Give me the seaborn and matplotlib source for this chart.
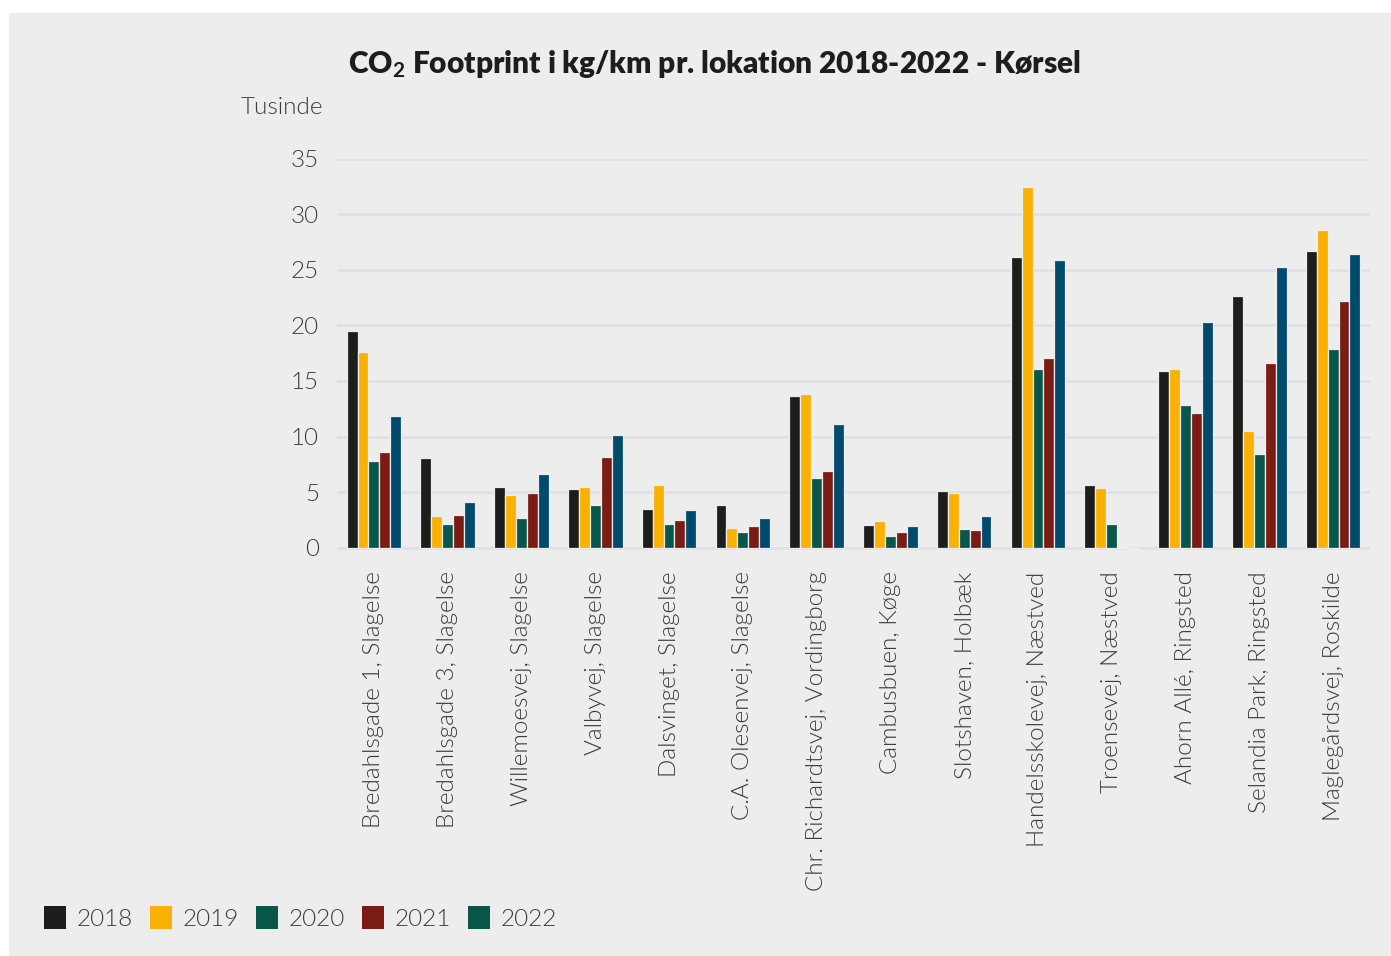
import matplotlib
matplotlib.use("Agg")
import matplotlib.pyplot as plt
from matplotlib.patches import Patch, Rectangle
import seaborn as sns
import pandas as pd

# Locations and yearly CO2 footprint (thousands of kg/km)
locations = [
    "Bredahlsgade 1, Slagelse",
    "Bredahlsgade 3, Slagelse",
    "Willemoesvej, Slagelse",
    "Valbyvej, Slagelse",
    "Dalsvinget, Slagelse",
    "C.A. Olesenvej, Slagelse",
    "Chr. Richardtsvej, Vordingborg",
    "Cambusbuen, Køge",
    "Slotshaven, Holbæk",
    "Handelsskolevej, Næstved",
    "Troensevej, Næstved",
    "Ahorn Allé, Ringsted",
    "Selandia Park, Ringsted",
    "Maglegårdsvej, Roskilde",
]
years = ["2018", "2019", "2020", "2021", "2022"]

v2018 = [19.5, 8.1, 5.5, 5.3, 3.5, 3.8, 13.6, 2.05, 5.1, 26.1, 5.6, 15.9, 22.6, 26.7]
v2019 = [17.6, 2.85, 4.75, 5.5, 5.65, 1.8, 13.8, 2.4, 4.95, 32.4, 5.4, 16.1, 10.5, 28.6]
v2020 = [7.8, 2.15, 2.7, 3.85, 2.15, 1.4, 6.3, 1.05, 1.7, 16.1, 2.15, 12.8, 8.45, 17.85]
v2021 = [8.6, 2.95, 4.95, 8.2, 2.5, 1.95, 6.9, 1.4, 1.6, 17.1, 0.05, 12.1, 16.6, 22.2]
v2022 = [11.8, 4.1, 6.65, 10.1, 3.4, 2.7, 11.15, 1.95, 2.85, 25.9, -0.1, 20.3, 25.2, 26.45]

yticks = [0, 5, 10, 15, 20, 25, 30, 35]

bar_colors = ["#1d1d1b", "#f9b104", "#08574a", "#7b1c14", "#004a6d"]
legend_colors = ["#1d1d1b", "#f9b104", "#08574a", "#7b1c14", "#08574a"]

bg = "#ededed"
text_color = "#3c3c3c"
grid_color = "#e1e1e5"

series = [v2018, v2019, v2020, v2021, v2022]
df = pd.DataFrame({
    "Lokation": [loc for _ in years for loc in locations],
    "År": [y for y in years for _ in locations],
    "Værdi": [v for s in series for v in s],
})

sns.set_theme(style="white")
plt.rcParams["font.family"] = ["Lato", "DejaVu Sans"]
plt.rcParams["mathtext.fontset"] = "custom"
plt.rcParams["mathtext.rm"] = "Lato:bold"
plt.rcParams["mathtext.default"] = "rm"

LABEL_W = 300
LABEL_SIZE = 17.5

W, H = 1391, 956
fig = plt.figure(figsize=(W / 100, H / 100), dpi=100)
fig.patch.set_facecolor("white")
fig.patches.append(Rectangle((9 / W, 0), 1 - 9 / W, 1 - 13 / H,
                             transform=fig.transFigure, facecolor=bg,
                             edgecolor="none", zorder=-10))

# Axes: y=0 at 547.7 px, y=35 at 158.5 px
ymin, ymax = -0.5, 35
px_per_unit = (547.7 - 158.5) / 35
bottom_px = 547.7 + (0 - ymin) * px_per_unit
left, right = 337 / W, 1370 / W
ax = fig.add_axes([left, 1 - bottom_px / H, right - left, (bottom_px - 158.5) / H])
ax.set_facecolor(bg)

sns.barplot(data=df, x="Lokation", y="Værdi", hue="År", palette=bar_colors,
            saturation=1, width=0.74, edgecolor=bg, linewidth=0.9, ax=ax,
            legend=False, errorbar=None, zorder=3)

ax.set_ylim(ymin, ymax)
ax.set_yticks(yticks)
ax.set_yticklabels([str(t) for t in yticks])
ax.set_xlim(-0.5, len(locations) - 0.5)
ax.grid(axis="y", color=grid_color, linewidth=2, zorder=0)
ax.grid(axis="x", visible=False)
for s in ax.spines.values():
    s.set_visible(False)
ax.set_xlabel("")
ax.set_ylabel("")
ax.tick_params(axis="y", length=0, pad=13, labelsize=LABEL_SIZE, labelcolor=text_color)
ax.tick_params(axis="x", length=0, pad=13, labelsize=LABEL_SIZE, labelcolor=text_color,
               rotation=90)
for lab in ax.get_xticklabels() + ax.get_yticklabels():
    lab.set_fontweight(LABEL_W)
for lab in ax.get_xticklabels():
    lab.set_verticalalignment("top")

fig.text(323 / W, 1 - 108 / H, "Tusinde", ha="right", va="center",
         fontsize=LABEL_SIZE, color=text_color, fontweight=LABEL_W)

fig.text(714 / W, 1 - 64 / H,
         r"CO$_2$ Footprint i kg/km pr. lokation 2018-2022 - Kørsel",
         ha="center", va="center", fontsize=21.5, fontweight="heavy",
         color="#1d1d1b")

handles = [Patch(facecolor=c, edgecolor="none", label=y)
           for c, y in zip(legend_colors, years)]
fig.legend(handles=handles, loc="center left", bbox_to_anchor=(22 / W, 1 - 918 / H),
           ncol=5, frameon=False, handlelength=0.9,
           handleheight=1.05, handletextpad=0.45, columnspacing=0.7,
           labelcolor=text_color, prop={"weight": LABEL_W, "size": LABEL_SIZE})

fig.savefig("out.png", dpi=100, facecolor=fig.get_facecolor())
